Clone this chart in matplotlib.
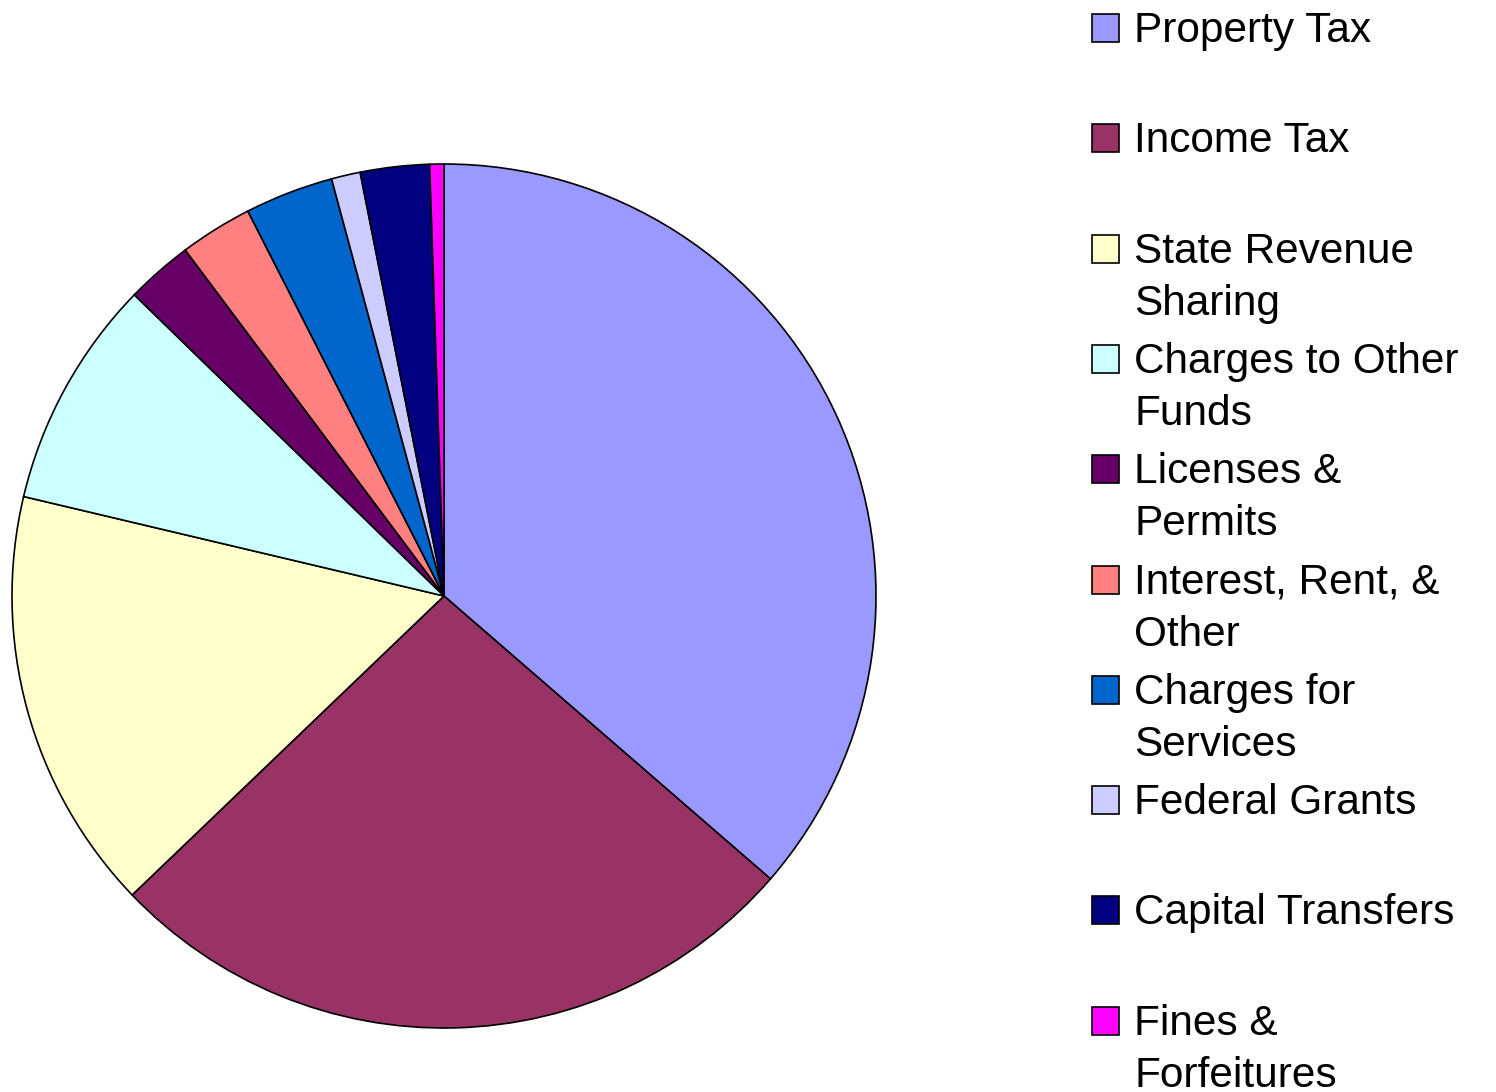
import matplotlib.pyplot as plt
from matplotlib.patches import Rectangle

# revenue shares (percent)
labels = ['Property Tax', 'Income Tax', 'State Revenue\nSharing', 'Charges to Other\nFunds',
          'Licenses &\nPermits', 'Interest, Rent, &\nOther', 'Charges for\nServices',
          'Federal Grants', 'Capital Transfers', 'Fines &\nForfeitures']
shares = [36.36, 26.47, 15.86, 8.58, 2.50, 2.72, 3.31, 1.08, 2.58, 0.53]
colors = ['#9999FF', '#993366', '#FFFFCC', '#CCFFFF', '#660066',
          '#FF8080', '#0066CC', '#CCCCFF', '#000080', '#FF00FF']

W, H = 1496, 1092
fig = plt.figure(figsize=(W / 100, H / 100), dpi=100)

# pie centre (444, 596), radius 432 px
cx, cy, r = 444, 596, 432
ax = fig.add_axes([(cx - r) / W, (H - cy - r) / H, 2 * r / W, 2 * r / H])
ax.pie(shares, colors=colors, startangle=90, counterclock=False,
       wedgeprops=dict(edgecolor='black', linewidth=1.2))
ax.set_aspect('auto')
ax.set_xlim(-1, 1)
ax.set_ylim(-1, 1)
ax.axis('off')

# legend drawn by hand so that markers line up with the first line of text
font = dict(family=['Liberation Sans', 'DejaVu Sans'], size=30.5, color='black')
step = 110.3
for i, (lab, col) in enumerate(zip(labels, colors)):
    base = 42 + i * step  # baseline of first line, px from top
    fig.patches.append(Rectangle((1092 / W, (H - base) / H), 27 / W, 28 / H,
                                 transform=fig.transFigure, facecolor=col,
                                 edgecolor='black', linewidth=1.2))
    for j, line in enumerate(lab.split('\n')):
        fig.text(1134 / W, (H - base - j * 52) / H, line, va='baseline', ha='left', **font)

fig.savefig('out.png', dpi=100, facecolor='white')
